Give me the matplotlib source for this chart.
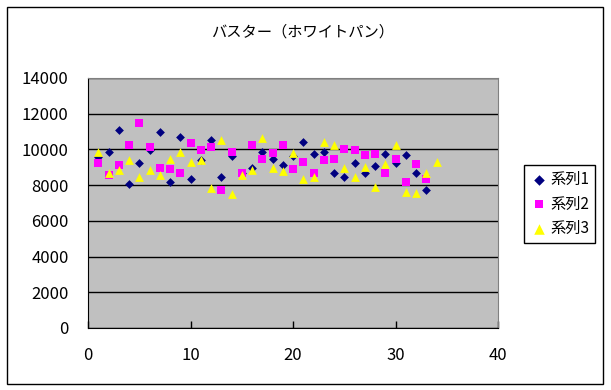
import matplotlib
matplotlib.use("Agg")
import matplotlib.pyplot as plt
from matplotlib.patches import Rectangle

plt.rcParams['font.family'] = ['Noto Sans CJK JP', 'DejaVu Sans']

# データ (読み取り値)
x1 = list(range(1, 34))
s1 = [9600, 9880, 11060, 8050, 9230, 9980, 10950, 8200, 10720, 8340,
      9400, 10540, 8430, 9640, 8700, 8950, 9830, 9460, 9100, 9640,
      10440, 9750, 9880, 8700, 8450, 9230, 8700, 9080, 9740, 9230,
      9700, 8700, 7740]
x2 = list(range(1, 34))
s2 = [9230, 8580, 9100, 10220, 11470, 10130, 8950, 8910, 8700, 10350,
      9980, 10130, 7740, 9880, 8700, 10220, 9460, 9790, 10260, 8910,
      9320, 8700, 9380, 9460, 10030, 9980, 9700, 9750, 8700, 9460,
      8200, 9180, 8350]
x3 = list(range(1, 35))
s3 = [9850, 8700, 8860, 9380, 8480, 8860, 8540, 9460, 9880, 9290,
      9380, 7830, 10540, 7490, 8580, 8860, 10630, 8950, 8800, 9790,
      8340, 8480, 10440, 10220, 8940, 8450, 9040, 7870, 9180, 10220,
      7610, 7550, 8670, 9320]
names = ['系列1', '系列2', '系列3']
title = 'バスター（ホワイトパン）'

fig = plt.figure(figsize=(6.11, 3.90), dpi=100)
fig.patch.set_facecolor('white')
fig.patches.append(Rectangle((7 / 611, 6 / 390), 596 / 611, 377 / 390,
                             transform=fig.transFigure, fill=False,
                             edgecolor='black', linewidth=1.0))

ax = fig.add_axes([88 / 611, 62 / 390, 410 / 611, 250 / 390])
ax.set_facecolor('#C0C0C0')

ax.scatter(x1, s1, marker='D', s=20, color='#000080', linewidths=0,
           label=names[0], zorder=3)
ax.scatter(x2, s2, marker='s', s=27, color='#FF00FF', linewidths=0,
           label=names[1], zorder=4)
ax.scatter(x3, s3, marker='^', s=40, color='#FFFF00', linewidths=0,
           label=names[2], zorder=5)

ax.set_xlim(0, 40)
ax.set_ylim(0, 14000)
ax.set_xticks([0, 10, 20, 30, 40])
ax.set_yticks(range(0, 14001, 2000))
ax.yaxis.grid(True, color='black', linewidth=1.0)
ax.set_axisbelow(True)

ax.tick_params(axis='x', direction='in', length=5, width=1, pad=14, labelsize=12)
ax.tick_params(axis='y', length=0, pad=14, labelsize=12)

ax.spines['left'].set_color('black')
ax.spines['bottom'].set_color('black')
ax.spines['top'].set_color('#808080')
ax.spines['right'].set_color('#808080')

fig.text(303 / 611, 1 - 32 / 390, title, ha='center', va='center', fontsize=11)

leg = ax.legend(loc='center left', bbox_to_anchor=(524 / 611, 1 - 204 / 390),
                bbox_transform=fig.transFigure, fancybox=False, framealpha=1,
                edgecolor='black', fontsize=11, handletextpad=0.1,
                borderpad=0.4, labelspacing=0.5, handlelength=1.2,
                borderaxespad=0, markerscale=1.2)
leg.get_frame().set_linewidth(1.0)

fig.savefig('out.png', dpi=100)
